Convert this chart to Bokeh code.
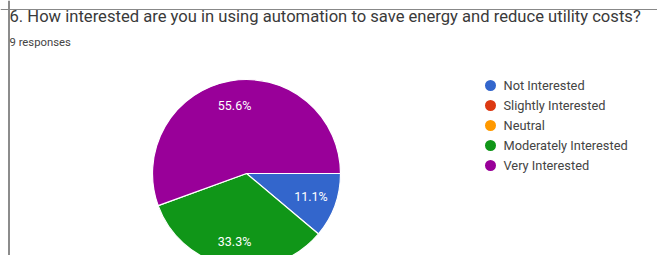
import math
from bokeh.plotting import figure
from bokeh.models import Label, Span, ColumnDataSource, Range1d
from bokeh.core.properties import value
from bokeh.embed import file_html
from bokeh.resources import INLINE

title = "6. How interested are you in using automation to save energy and reduce utility costs?"
subtitle = "9 responses"
categories = ["Not Interested", "Slightly Interested", "Neutral", "Moderately Interested", "Very Interested"]
counts = [1, 0, 0, 3, 5]
colors = ["#3366cc", "#dc3912", "#ff9900", "#109618", "#990099"]

W, H = 657, 255
p = figure(width=W, height=H, x_range=Range1d(0, W), y_range=Range1d(0, H),
           output_backend="svg", toolbar_location=None, min_border=0,
           x_axis_location=None, y_axis_location=None)
p.grid.visible = False
p.outline_line_color = None
p.background_fill_color = "white"
p.border_fill_color = "white"

cx, cy, R = 246, 82, 94
total = sum(counts)
starts, ends, cols, lab_x, lab_y, labs = [], [], [], [], [], []
cum = 0
for c, col in zip(counts, colors):
    if c == 0:
        continue
    a0 = -2 * math.pi * cum / total
    a1 = -2 * math.pi * (cum + c) / total
    starts.append(a0); ends.append(a1); cols.append(col)
    mid = (a0 + a1) / 2
    lab_x.append(cx + 0.73 * R * math.cos(mid))
    lab_y.append(cy + 0.73 * R * math.sin(mid))
    labs.append(f"{100 * c / total:.1f}%")
    cum += c

src = ColumnDataSource(dict(s=starts, e=ends, c=cols))
p.wedge(x=cx, y=cy, radius=R, start_angle="s", end_angle="e", direction="clock",
        fill_color="c", line_color="white", line_width=1.2, source=src)
p.text(x=lab_x, y=lab_y, text=labs, text_color="white", text_font=value("Roboto"),
       text_font_size="12.5px", text_align="center", text_baseline="middle")

# legend
lx, ly0, step = 490, 170, 20
ly = [ly0 - i * step for i in range(len(categories))]
p.scatter(x=[lx] * len(categories), y=ly, size=11, marker="circle", fill_color=colors, line_color=None)
p.text(x=[lx + 13] * len(categories), y=ly, text=categories, text_color="#444444",
       text_font=value("Roboto"), text_font_size="12.8px", text_baseline="middle")

p.add_layout(Label(x=9, y=239, text=title, text_font="Roboto", text_font_size="16.6px",
                   text_color="#3a3a3a", text_baseline="middle"))
p.add_layout(Label(x=9, y=213, text=subtitle, text_font="Roboto", text_font_size="11.3px",
                   text_color="#444444", text_baseline="middle"))

p.add_layout(Span(location=8.5, dimension="height", line_color="#666666", line_width=1.5))
p.add_layout(Span(location=H - 9, dimension="width", line_color="#888888", line_width=1))

open("out.html", "w").write(file_html(p, INLINE))
